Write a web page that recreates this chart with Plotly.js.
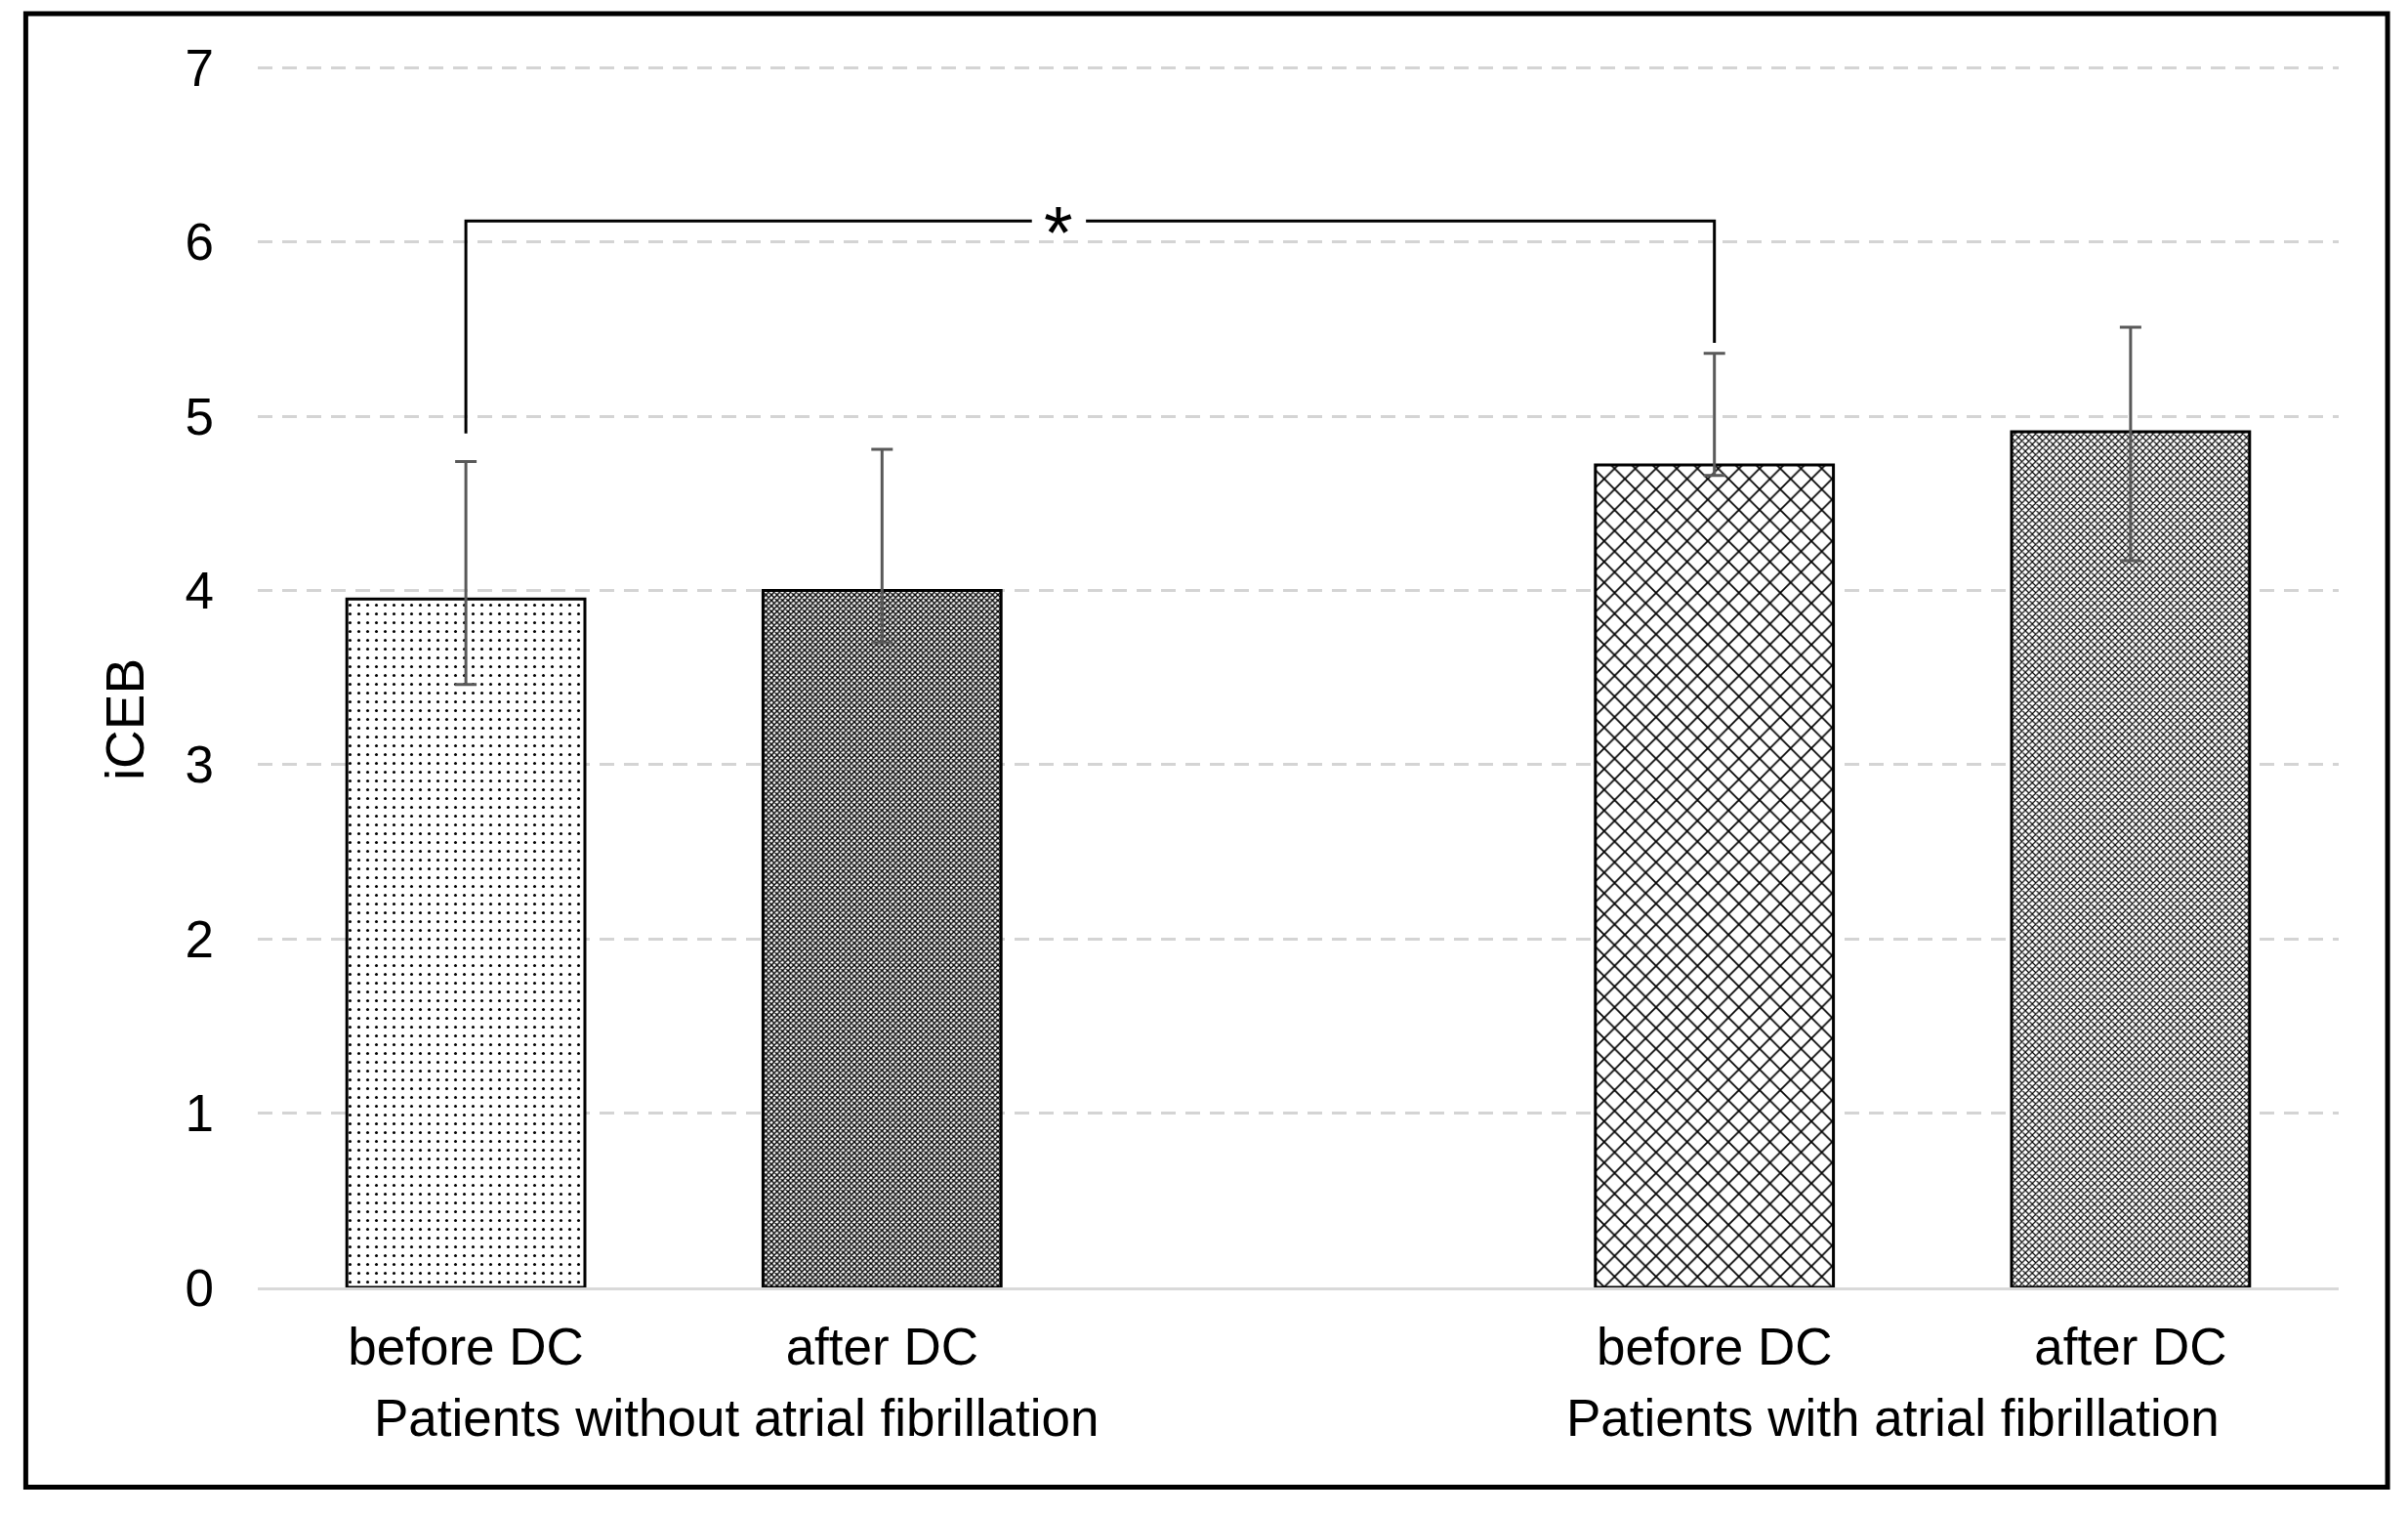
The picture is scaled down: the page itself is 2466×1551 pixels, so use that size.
<!DOCTYPE html>
<html>
<head>
<meta charset="utf-8">
<script src="https://cdn.plot.ly/plotly-3.0.1.min.js"></script>
<style>html,body{margin:0;padding:0;background:#fff;}#chart{width:2466px;height:1551px;}</style>
</head>
<body>
<div id="chart"></div>
<script>
// ---- data ----
var groups = ["Patients without atrial fibrillation", "Patients with atrial fibrillation"];
var subLabels = ["before DC", "after DC"];
var meanValues = [3.95, 4.00, 4.72, 4.91];
var errPlus = [0.79, 0.81, 0.64, 0.60];
var errMinus = [0.49, 0.30, 0.06, 0.74];
var yTicks = [0, 1, 2, 3, 4, 5, 6, 7];
var sigPair = [0, 2];            // indices of the bars compared
var sigBracketY = [4.90, 6.12, 6.12, 5.42]; // left foot, top, top, right foot
var sigLabel = "*";

// ---- positions: each group occupies subLabels.length slots plus one empty slot ----
var xPos = [], tickText = [];
groups.forEach(function (g, gi) {
  subLabels.forEach(function (s, si) {
    xPos.push(gi * (subLabels.length + 1) + si);
    tickText.push(s);
  });
});

var FONT = "Liberation Sans, Arial, sans-serif";

var patterns = {
  shape: [".", "x", "x", "x"],
  size: [9, 4, 15, 5],
  solidity: [0.09, 0.58, 0.22, 0.4],
  fgcolor: "#000",
  bgcolor: "#fff",
  fillmode: "replace"
};

var trace = {
  type: "bar",
  x: xPos,
  y: meanValues,
  width: 0.572,
  marker: { color: "#fff", line: { color: "#000", width: 3 }, pattern: patterns },
  error_y: {
    type: "data", symmetric: false, array: errPlus, arrayminus: errMinus,
    color: "#595959", thickness: 3, width: 11
  },
  hoverinfo: "skip"
};

// bracket
var xl = xPos[sigPair[0]], xr = xPos[sigPair[1]];
var starX = xl + (xr - xl) * 0.475;
var gapHalf = 0.065;
var lineStyle = { color: "#000", width: 3 };
var shapes = [
  { type: "path", xref: "x", yref: "y",
    path: "M" + xl + "," + sigBracketY[0] + " L" + xl + "," + sigBracketY[1] + " L" + (starX - gapHalf) + "," + sigBracketY[1],
    line: lineStyle },
  { type: "path", xref: "x", yref: "y",
    path: "M" + (starX + gapHalf) + "," + sigBracketY[2] + " L" + xr + "," + sigBracketY[2] + " L" + xr + "," + sigBracketY[3],
    line: lineStyle },
  // outer frame
  { type: "rect", xref: "paper", yref: "paper", x0: -0.1115, x1: 1.0235, y0: -0.1633, y1: 1.0415,
    line: { color: "#000", width: 5 }, layer: "above" }
];

var annotations = [
  { text: sigLabel, x: starX, y: sigBracketY[1], xref: "x", yref: "y", showarrow: false,
    font: { family: FONT, size: 76, color: "#000" }, yshift: -11 },
  { text: groups[0], x: 0.65, y: -0.107, xref: "x", yref: "paper", showarrow: false,
    font: { family: FONT, size: 53, color: "#000" }, yanchor: "middle" },
  { text: groups[1], x: 3.43, y: -0.107, xref: "x", yref: "paper", showarrow: false,
    font: { family: FONT, size: 53, color: "#000" }, yanchor: "middle" },
  { text: "iCEB", x: -0.0638, y: 0.464, xref: "paper", yref: "paper", showarrow: false,
    xanchor: "center", yanchor: "middle",
    textangle: -90, font: { family: FONT, size: 55, color: "#000" } }
];

var layout = {
  width: 2466, height: 1551,
  margin: { l: 264, r: 71, t: 66, b: 233 },
  paper_bgcolor: "#fff", plot_bgcolor: "#fff",
  showlegend: false,
  bargap: 0,
  font: { family: FONT, size: 53, color: "#000" },
  xaxis: {
    range: [-0.5, xPos[xPos.length - 1] + 0.5],
    tickmode: "array", tickvals: xPos, ticktext: tickText,
    showgrid: false, zeroline: false, ticks: "",
    showline: true, linecolor: "#d9d9d9", linewidth: 3,
    tickfont: { family: FONT, size: 53, color: "#000" },
    ticklabelstandoff: 12
  },
  yaxis: {
    range: [0, 7.018], tickmode: "array", tickvals: yTicks,
    showgrid: true, gridcolor: "#d4d4d4", gridwidth: 3, griddash: "15px,10px",
    zeroline: false, showline: false, ticks: "",
    tickfont: { family: FONT, size: 53, color: "#000" },
    ticklabelstandoff: 44
  },
  shapes: shapes,
  annotations: annotations
};

Plotly.newPlot("chart", [trace], layout, { staticPlot: true, displayModeBar: false });
</script>
</body>
</html>
